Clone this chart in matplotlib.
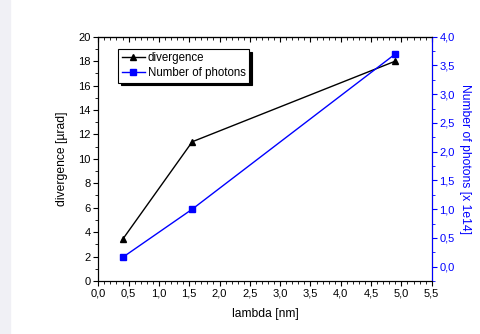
import matplotlib.pyplot as plt
from matplotlib.ticker import MultipleLocator, FuncFormatter
from matplotlib.patches import Rectangle

plt.rcParams['font.family'] = ['Liberation Sans', 'DejaVu Sans']
plt.rcParams['font.size'] = 8

# data
lam = [0.4, 1.55, 4.9]
divergence = [3.4, 11.4, 18.0]
photons = [0.16, 1.0, 3.7]   # x 1e14

comma = FuncFormatter(lambda v, p: ('%.1f' % v).replace('.', ','))

fig = plt.figure(figsize=(4.8, 3.34), dpi=100)
fig.patches.append(Rectangle((0, 0), 10 / 480, 1, transform=fig.transFigure,
                             color='#f0f0f5', zorder=-1))
ax = fig.add_axes([98.3 / 480, 1 - 281 / 334, (431.7 - 98.3) / 480, (281 - 36.7) / 334])
ax2 = ax.twinx()

ax.plot(lam, divergence, color='black', marker='^', ms=5, lw=1, label='divergence')
ax2.plot(lam, photons, color='blue', marker='s', ms=4.5, lw=1, label='Number of photons')

ax.set_xlim(0, 5.5)
ax.set_ylim(0, 20)
ax2.set_ylim(-0.25, 4.0)

ax.xaxis.set_major_locator(MultipleLocator(0.5))
ax.xaxis.set_minor_locator(MultipleLocator(0.1))
ax.xaxis.set_major_formatter(comma)
ax.yaxis.set_major_locator(MultipleLocator(2))
ax.yaxis.set_minor_locator(MultipleLocator(1))
ax2.yaxis.set_major_locator(MultipleLocator(0.5))
ax2.yaxis.set_minor_locator(MultipleLocator(0.25))
ax2.yaxis.set_major_formatter(comma)

ax.tick_params(axis='x', which='major', direction='out', length=3.5, width=0.8, pad=2)
ax.tick_params(axis='x', which='minor', direction='out', length=2, width=0.6)
ax.tick_params(axis='y', which='major', direction='out', length=3.5, width=0.8, pad=2)
ax.tick_params(axis='y', which='minor', direction='out', length=2, width=0.6)
ax2.tick_params(axis='y', which='major', colors='blue', length=3.5, width=0.8, pad=2)
ax2.tick_params(axis='y', which='minor', colors='blue', length=2, width=0.6)
ax2.spines['right'].set_color('blue')

# top axis: inward ticks, no labels
top = ax.secondary_xaxis('top')
top.xaxis.set_major_locator(MultipleLocator(0.5))
top.xaxis.set_minor_locator(MultipleLocator(0.1))
top.tick_params(which='major', direction='in', length=3.5, width=0.8, labeltop=False)
top.tick_params(which='minor', direction='in', length=2, width=0.6)

ax.set_xlabel('lambda [nm]', fontsize=8.7, labelpad=7)
ax.set_ylabel('divergence [µrad]', fontsize=8.7, labelpad=7)
ax2.set_ylabel('Number of photons [x 1e14]', fontsize=8.7, color='blue',
               rotation=270, labelpad=12)

h1, l1 = ax.get_legend_handles_labels()
h2, l2 = ax2.get_legend_handles_labels()
leg = ax2.legend(h1 + h2, l1 + l2, loc='upper left', bbox_to_anchor=(0.06, 0.95),
                 fontsize=8.3, frameon=True, fancybox=False,
                 shadow={'color': 'black', 'alpha': 1}, edgecolor='black',
                 handlelength=2.0, handletextpad=0.25, borderpad=0.3,
                 labelspacing=0.25, borderaxespad=0)
leg.get_frame().set_linewidth(0.8)

fig.savefig('out.png', dpi=100)
